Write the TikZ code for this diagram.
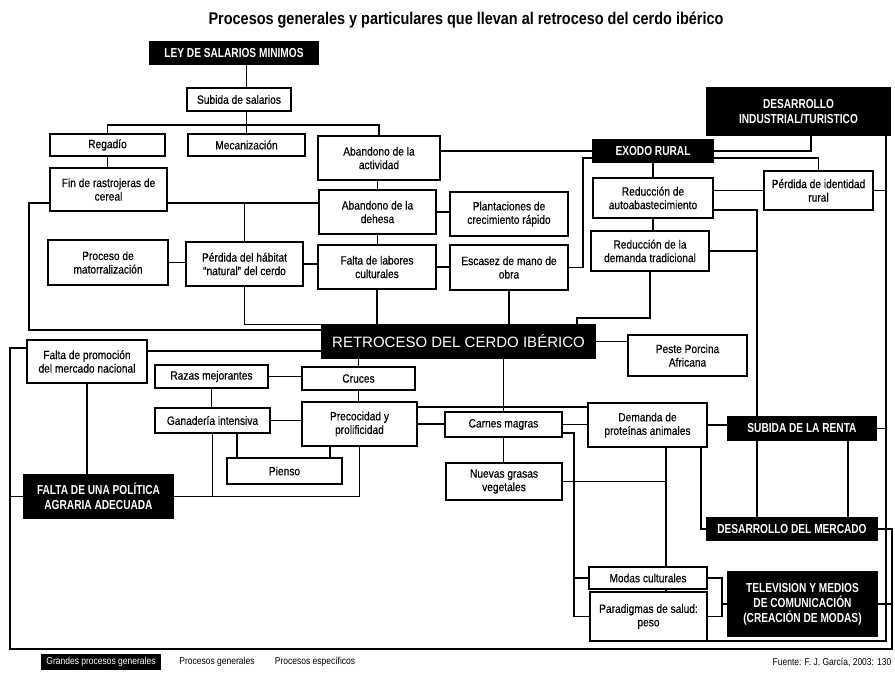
\documentclass[tikz,border=0pt]{standalone}
\usepackage{fontspec}
\setmainfont{Liberation Sans}
\newfontfamily\condf[FakeStretch=0.85,FakeBold=0.4]{Liberation Sans}
\newfontfamily\legf[FakeStretch=0.85]{Liberation Sans}
\newfontfamily\capsf[FakeStretch=0.78]{Liberation Sans}
\newfontfamily\titlef[FakeStretch=0.85]{Liberation Sans}
\begin{document}
\begin{tikzpicture}[x=1pt,y=-1pt,
  wb/.style={draw, line width=1.4pt, fill=white, align=center, inner sep=1pt,
    font=\condf\fontsize{12}{13.5}\selectfont},
  bb/.style={draw, line width=1.3pt, fill=black, text=white, align=center, inner sep=1pt,
    font=\capsf\bfseries\fontsize{13}{15}\selectfont},
  sz/.style 2 args={minimum width=#1pt, minimum height=#2pt},
  con/.style={line width=1.7pt},
  lg/.style={inner sep=1pt, font=\legf\fontsize{10}{11}\selectfont}]
\useasboundingbox (0,0) rectangle (895,674);
\fill[white] (0,0) rectangle (895,674);

\node[font=\titlef\bfseries\fontsize{17}{19}\selectfont] (title) at (466,20)
  {Procesos generales y particulares que llevan al retroceso del cerdo ibérico};

% nodes
\node[bb, sz={168}{22}] (ley) at (234,53) {LEY DE SALARIOS MINIMOS};
\node[wb, sz={104}{23}] (sub) at (239,99.5) {Subida de salarios};
\node[wb, sz={115}{22}] (reg) at (107.5,145) {Regadío};
\node[wb, sz={117}{22}] (mec) at (246.5,145) {Mecanización};
\node[wb, sz={122}{44}] (abact) at (379,158) {Abandono de la\\actividad};
\node[wb, sz={117}{43}] (fin) at (108.5,189.5) {Fin de rastrojeras de\\cereal};
\node[wb, sz={117}{44}] (dehesa) at (377.5,212) {Abandono de la\\dehesa};
\node[wb, sz={118}{44}] (plant) at (509,214) {Plantaciones de\\crecimiento rápido};
\node[wb, sz={120}{45}] (mator) at (108,262.5) {Proceso de\\matorralización};
\node[wb, sz={117}{44}] (habitat) at (244.5,264) {Pérdida del hábitat\\“natural” del cerdo};
\node[wb, sz={118}{44}] (labores) at (377,267) {Falta de labores\\culturales};
\node[wb, sz={118}{45}] (escasez) at (509,267.5) {Escasez de mano de\\obra};
\node[bb, sz={120}{22}] (exodo) at (653,151) {EXODO RURAL};
\node[bb, sz={183}{47}] (desind) at (798.5,111.5) {DESARROLLO\\INDUSTRIAL/TURISTICO};
\node[wb, sz={120}{40}] (redauto) at (653,198) {Reducción de\\autoabastecimiento};
\node[wb, sz={118}{40}] (reddem) at (650,251) {Reducción de la\\demanda tradicional};
\node[wb, sz={109}{39}] (identidad) at (818.5,190.5) {Pérdida de identidad\\rural};
\node[bb, sz={273}{33}, font=\fontsize{15}{17}\selectfont] (retro) at (458.5,341.5) {RETROCESO DEL CERDO IBÉRICO};
\node[wb, sz={119}{41}] (peste) at (687.5,355.5) {Peste Porcina\\Africana};
\node[wb, sz={120}{43}] (promo) at (87,361.5) {Falta de promoción\\del mercado nacional};
\node[wb, sz={113}{23}] (razas) at (211.5,376.5) {Razas mejorantes};
\node[wb, sz={113}{23}] (cruces) at (358.5,378.5) {Cruces};
\node[wb, sz={115}{25}] (ganad) at (212.5,420.5) {Ganadería intensiva};
\node[wb, sz={115}{44}] (precoc) at (359.5,424) {Precocidad y\\prolificidad};
\node[wb, sz={117}{25}] (carnes) at (503.5,424.5) {Carnes magras};
\node[wb, sz={115}{26}] (pienso) at (284.5,471) {Pienso};
\node[wb, sz={116}{37}] (grasas) at (504,481.5) {Nuevas grasas\\vegetales};
\node[wb, sz={119}{44}] (demanda) at (647.5,425) {Demanda de\\proteínas animales};
\node[bb, sz={148}{23}] (renta) at (802,428.5) {SUBIDA DE LA RENTA};
\node[bb, sz={149}{43}] (politica) at (98.5,496.5) {FALTA DE UNA POLÍTICA\\AGRARIA ADECUADA};
\node[bb, sz={170}{22}] (mercado) at (792,529) {DESARROLLO DEL MERCADO};
\node[wb, sz={118}{22}] (modas) at (648,578) {Modas culturales};
\node[wb, sz={117}{49}] (parad) at (648.5,616.5) {Paradigmas de salud:\\peso};
\node[bb, sz={149}{64}] (tv) at (802.5,604) {TELEVISION Y MEDIOS\\DE COMUNICACIÓN\\(CREACIÓN DE MODAS)};

% legend
\node[bb, lg, text=white, fill=black, sz={118}{14}] (lg1) at (101,662) {Grandes procesos generales};
\node[lg] (lg2) at (217,662) {Procesos generales};
\node[lg] (lg3) at (315,662) {Procesos específicos};
\node[lg] (src) at (832,662) {Fuente: F. J. García, 2003: 130};

% helper coordinates
\coordinate (bus) at (0,125);
\coordinate (h203) at (0,203);
\coordinate (e1) at (583,158);
\coordinate (L1) at (29,203);
\coordinate (r330) at (0,330);
\coordinate (r318) at (577,318);
\coordinate (d811) at (811,0);
\coordinate (v757) at (757,210);
\coordinate (fr) at (886,0);
\coordinate (fb) at (886,641);
\coordinate (ol) at (10,649);
\coordinate (or) at (892,649);
\coordinate (h348) at (0,348);
\coordinate (r351) at (0,351);
\coordinate (g237) at (237,0);
\coordinate (p330) at (330,0);
\coordinate (h407) at (0,407);
\coordinate (v574) at (574,433);
\coordinate (v666) at (666,0);
\coordinate (v722) at (722,0);
\coordinate (v702) at (701,0);
\coordinate (v848) at (848,0);

% connectors
\draw[con] (ley.south -| mec.north) -- (sub.north -| mec.north);
\draw[con] (sub.south -| mec.north) -- (mec.north);
\draw[con] (reg.north) -- (reg.north |- bus) -- (abact.north |- bus) -- (abact.north);
\draw[con] (reg.south) -- (reg.south |- fin.north);
\draw[con] (abact.east |- exodo.west) -- (exodo.west);
\draw[con] (abact.south -| dehesa.north) -- (dehesa.north);
\draw[con] (fin.east |- h203) -- (dehesa.west |- h203);
\draw[con] (habitat.north |- h203) -- (habitat.north);
\draw[con] (dehesa.east) -- (dehesa.east -| plant.west);
\draw[con] (dehesa.south) -- (dehesa.south |- labores.north);
\draw[con] (mator.east) -- (mator.east -| habitat.west);
\draw[con] (habitat.east) -- (habitat.east -| labores.west);
\draw[con] (labores.east) -- (labores.east -| escasez.west);
\draw[con] (escasez.east) -| (e1) -- (e1 -| exodo.west);
\draw[con] (habitat.south) -- (habitat.south |- retro.north) -- (labores.south |- retro.north);
\draw[con] (labores.south) -- (labores.south |- retro.north);
\draw[con] (escasez.south) -- (escasez.south |- retro.north);
\draw[con] (fin.west |- h203) -- (L1) -- (L1 |- r330) -- (retro.west |- r330);
\draw[con] (reddem.south) |- (r318) -- (r318 |- retro.north);
\draw[con] (retro.east) -- (retro.east -| peste.west);
\draw[con] (exodo.south) -- (exodo.south |- redauto.north);
\draw[con] (redauto.south) -- (redauto.south |- reddem.north);
\draw[con] (exodo.east) -| (d811 |- desind.south);
\draw[con] ([yshift=-7pt]exodo.east) -| (identidad.north);
\draw[con] (redauto.east |- identidad.west) -- (identidad.west);
\draw[con] (redauto.east |- v757) -- (v757) -- (v757 |- renta.north);
\draw[con] (reddem.east) -- (reddem.east -| v757);
\draw[con] (fr |- desind.south) -- (fb) -- (fb -| parad.east);
\draw[con] (identidad.east) -- (identidad.east -| fr);
\draw[con] (renta.east) -- (renta.east -| fr);
\draw[con] (promo.west |- h348) -- (ol |- h348) -- (ol) -- (or) |- (mercado.east);
\draw[con] (tv.east) -- (tv.east -| or);
\draw[con] (politica.west) -- (politica.west -| ol);
\draw[con] (promo.east |- r351) -- (retro.west |- r351);
\draw[con] (promo.south) -- (promo.south |- politica.north);
\draw[con] (politica.east) -| (precoc.south);
\draw[con] (ganad.south) -- (ganad.south |- politica.east);
\draw[con] (g237 |- ganad.south) -- (g237 |- pienso.north);
\draw[con] (p330 |- precoc.south) -- (p330 |- pienso.north);
\draw[con] (ganad.east) -- (ganad.east -| precoc.west);
\draw[con] (razas.east) -- (razas.east -| cruces.west);
\draw[con] (razas.south) -- (razas.south |- ganad.north);
\draw[con] (cruces.south) -- (cruces.south |- precoc.north);
\draw[con] (cruces.north) -- (cruces.north |- retro.south);
\draw[con] (carnes.north |- retro.south) -- (carnes.north);
\draw[con] (carnes.south) -- (carnes.south |- grasas.north);
\draw[con] (precoc.east) -- (precoc.east -| carnes.west);
\draw[con] (precoc.east |- h407) -- (demanda.west |- h407);
\draw[con] (carnes.east) -- (carnes.east -| demanda.west);
\draw[con] (carnes.east |- v574) -- (v574) |- (parad.west);
\draw[con] (v574 |- modas.west) -- (modas.west);
\draw[con] (v666 |- demanda.south) -- (v666 |- modas.north);
\draw[con] (grasas.east) -- (grasas.east -| v666);
\draw[con] (v666 |- modas.south) -- (v666 |- parad.north);
\draw[con] (modas.east) -- (modas.east -| v722) -- (v722 |- parad.east) -- (parad.east);
\draw[con] (tv.west) -- (tv.west -| v722);
\draw[con] (demanda.east) -- (demanda.east -| renta.west);
\draw[con] (v702 |- demanda.south) |- (mercado.west);
\draw[con] (v757 |- renta.south) -- (v757 |- mercado.north);
\draw[con] (v848 |- renta.south) -- (v848 |- mercado.north);
\end{tikzpicture}
\end{document}
